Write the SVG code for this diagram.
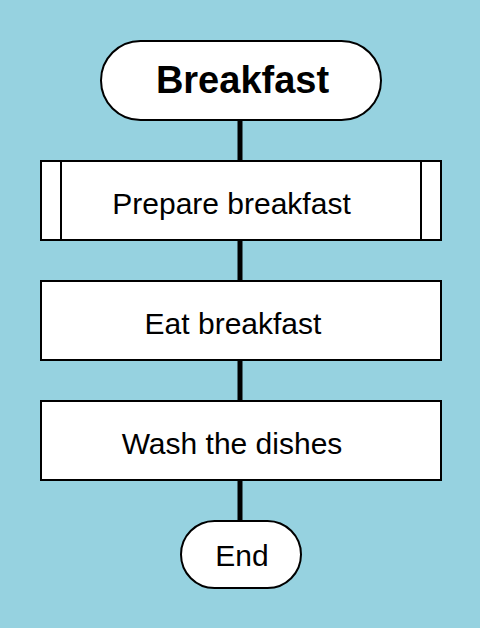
<svg xmlns="http://www.w3.org/2000/svg" width="480" height="628" viewBox="0 0 480 628">
<style>
.box{fill:#fff;stroke:#000;stroke-width:2}
.t{font-family:"Liberation Sans",Arial,sans-serif;font-size:30px;fill:#000;text-anchor:middle;dominant-baseline:central}
.conn{stroke:#000;stroke-width:5;fill:none}
</style>
<rect x="0" y="0" width="480" height="628" fill="#96d2e0"/>
<g id="connectors">
<line class="conn" x1="240" y1="120" x2="240" y2="161"/>
<line class="conn" x1="240" y1="240" x2="240" y2="281"/>
<line class="conn" x1="240" y1="360" x2="240" y2="401"/>
<line class="conn" x1="240" y1="480" x2="240" y2="521"/>
</g>
<g id="start">
<rect class="box" x="101" y="41" width="280" height="79" rx="39.5"/>
<text class="t" x="242.5" y="80" style="font-weight:bold;font-size:38px">Breakfast</text>
</g>
<g id="prepare">
<rect class="box" x="41" y="161" width="400" height="79"/>
<line x1="61" y1="161" x2="61" y2="240" stroke="#000" stroke-width="2"/>
<line x1="421" y1="161" x2="421" y2="240" stroke="#000" stroke-width="2"/>
<text class="t" x="231.5" y="203">Prepare breakfast</text>
</g>
<g id="eat">
<rect class="box" x="41" y="281" width="400" height="79"/>
<text class="t" x="233" y="323">Eat breakfast</text>
</g>
<g id="wash">
<rect class="box" x="41" y="401" width="400" height="79"/>
<text class="t" x="232" y="443">Wash the dishes</text>
</g>
<g id="end">
<rect class="box" x="181" y="521" width="120" height="67" rx="33.5"/>
<text class="t" x="242" y="555">End</text>
</g>
</svg>
